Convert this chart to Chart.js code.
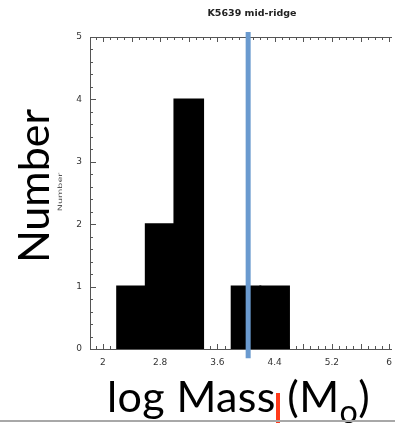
<!DOCTYPE html>
<html>
<head>
<meta charset="utf-8">
<script src="https://cdn.jsdelivr.net/npm/chart.js@4.4.1/dist/chart.umd.min.js"></script>
<style>
    html, body { margin: 0; padding: 0; background: #fff; }
    #wrap { position: relative; width: 395px; height: 423px; overflow: hidden; background: #fff; }
    #wrap canvas { position: absolute; left: 0; top: 0; }
    .title { position: absolute; left: 252px; top: 7px; transform: translateX(-50%); font: bold 9.5px "DejaVu Sans", sans-serif; color: #222; white-space: nowrap; }
    .ylab { position: absolute; left: 32px; top: 186px; transform: translate(-50%, -50%) rotate(-90deg); font: 43px Lato, sans-serif; line-height: 1; color: #000; white-space: nowrap; }
    .ylab-small { position: absolute; left: 60px; top: 192px; transform: translate(-50%, -50%) rotate(-90deg) scaleX(1.6); font: 6px "DejaVu Sans", sans-serif; line-height: 1; color: #555; white-space: nowrap; }
    .xlab { position: absolute; left: 107px; top: 374px; font: 43px Lato, sans-serif; letter-spacing: 0.4px; line-height: 1; color: #000; white-space: nowrap; }
    .xlab sub { font-size: 0.75em; vertical-align: -0.35em; line-height: 0; }
    .mark { position: absolute; left: 276px; top: 393px; width: 4px; height: 30px; background: #ff3a1a; }
    .rule { position: absolute; left: 0; top: 420px; width: 395px; height: 2px; background: #a8a8a8; }
</style>
</head>
<body>
<div id="wrap">
    <canvas id="chart" width="395" height="423"></canvas>
    <div class="title">K5639 mid-ridge</div>
    <div class="ylab-small">Number</div>
    <div class="ylab">Number</div>
    <div class="xlab">log Mass (M<sub>o</sub>)</div>
    <div class="mark"></div>
    <div class="rule"></div>
</div>
<script>
// --- data ---
const binCenters = [2.4, 2.8, 3.2, 3.6, 4.0, 4.4];   // log mass, 0.4 wide bins
const binCounts = [1, 2, 4, 0, 1, 1];
const markerValue = 4.03;                            // blue vertical line
const xTickLabels = [2, 2.8, 3.6, 4.4, 5.2, 6];
const yTickLabels = [0, 1, 2, 3, 4, 5];

const X_MIN = 1.82, X_MAX = 6.04;
const Y_MIN = 0, Y_MAX = 5;

// --- axis frame with inward minor ticks ---
const framePlugin = {
    id: 'frame',
    beforeDatasetsDraw(chart) {
        const { ctx, chartArea: a, scales: { x, y } } = chart;
        ctx.save();
        ctx.strokeStyle = '#555';
        ctx.lineWidth = 1;
        ctx.beginPath();
        ctx.moveTo(a.left + 0.5, a.top);
        ctx.lineTo(a.left + 0.5, a.bottom);
        ctx.moveTo(a.left, a.bottom + 0.5);
        ctx.lineTo(a.right, a.bottom + 0.5);
        ctx.moveTo(a.left, a.top + 0.5);
        ctx.lineTo(a.right, a.top + 0.5);
        // y ticks every 0.2, long at integers
        for (let i = 0; i <= 25; i++) {
            const py = Math.round(y.getPixelForValue(i * 0.2)) + 0.5;
            const len = i % 5 === 0 ? 6 : 3;
            ctx.moveTo(a.left, py);
            ctx.lineTo(a.left + len, py);
        }
        // x ticks every 0.1, long every 0.4
        for (let i = 19; i <= 60; i++) {
            const v = i / 10;
            if (v < X_MIN || v > X_MAX) continue;
            const px = Math.round(x.getPixelForValue(v)) + 0.5;
            const len = i % 4 === 0 ? 5 : 3;
            ctx.moveTo(px, a.bottom);
            ctx.lineTo(px, a.bottom - len);
            ctx.moveTo(px, a.top);
            ctx.lineTo(px, a.top + len);
        }
        ctx.stroke();
        ctx.restore();
    }
};

const ctx = document.getElementById('chart').getContext('2d');
new Chart(ctx, {
    data: {
        datasets: [
            {
                type: 'line',
                data: [{ x: markerValue, y: -0.15 }, { x: markerValue, y: 5.08 }],
                borderColor: '#6a9acf',
                borderWidth: 5,
                pointRadius: 0,
                clip: false,
                order: 0
            },
            {
                type: 'bar',
                data: binCenters.map((c, i) => ({ x: c, y: binCounts[i] })),
                backgroundColor: '#000',
                borderWidth: 0,
                inflateAmount: (c) => (c.raw && c.raw.y > 0 ? 1 : 0),
                barPercentage: 1,
                categoryPercentage: 1,
                order: 1
            }
        ]
    },
    options: {
        responsive: false,
        animation: false,
        layout: { padding: { top: 37, right: 3, left: 0, bottom: 0 } },
        plugins: { legend: { display: false }, tooltip: { enabled: false }, title: { display: false } },
        scales: {
            x: {
                type: 'linear', min: X_MIN, max: X_MAX, offset: false,
                afterBuildTicks: (s) => { s.ticks = xTickLabels.map(v => ({ value: v })); },
                afterFit: (s) => { s.height = 74; s.paddingLeft = 0; s.paddingRight = 0; },
                grid: { display: false, drawTicks: false, offset: false },
                border: { display: false },
                ticks: { padding: 8, color: '#333', font: { family: 'DejaVu Sans', size: 9 }, maxRotation: 0, callback: (v) => String(v) }
            },
            y: {
                type: 'linear', min: Y_MIN, max: Y_MAX,
                afterBuildTicks: (s) => { s.ticks = yTickLabels.map(v => ({ value: v })); },
                afterFit: (s) => { s.width = 90; s.paddingTop = 0; s.paddingBottom = 0; },
                grid: { display: false, drawTicks: false },
                border: { display: false },
                ticks: { padding: 8, color: '#333', font: { family: 'DejaVu Sans', size: 9 } }
            }
        }
    },
    plugins: [framePlugin]
});
</script>
</body>
</html>
